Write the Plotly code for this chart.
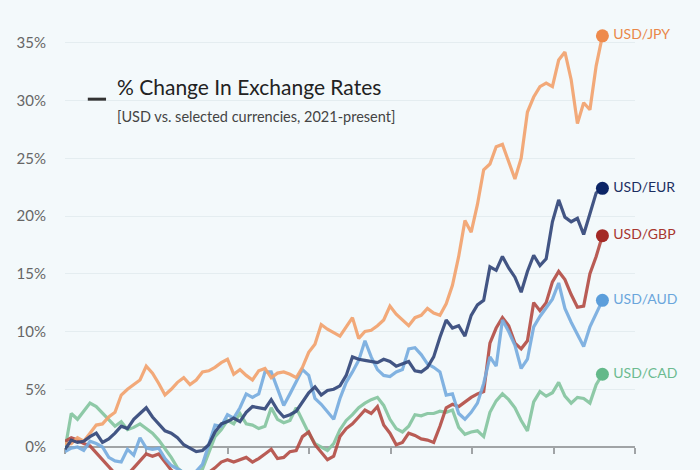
import pandas as pd
import plotly.graph_objects as go

# fortnightly observations, Jan 2021 -> Apr 2024
dates = pd.date_range("2021-01-01", periods=87, freq="14D")

usd_jpy = [0.3, 0.3, 0.8, 0.5, 1.2, 1.9, 2.0, 2.6, 3.0, 4.5, 5.0, 5.4, 5.8, 7.0, 6.4, 5.5, 4.5, 5.0,
           5.6, 6.0, 5.4, 5.8, 6.5, 6.6, 6.9, 7.3, 7.6, 6.3, 6.7, 6.2, 5.8, 6.6, 6.8, 6.0, 6.4, 6.5,
           6.3, 6.0, 6.9, 8.2, 8.9, 10.6, 10.2, 9.9, 9.6, 10.4, 11.2, 9.4, 10.0, 10.1, 10.5, 11.0,
           12.2, 11.5, 11.0, 10.5, 11.2, 11.4, 12.0, 11.6, 11.4, 12.4, 14.0, 16.5, 19.6, 18.6, 21.0,
           24.0, 24.5, 26.0, 26.2, 24.6, 23.2, 25.0, 29.0, 30.3, 31.2, 31.5, 31.2, 33.5, 34.2, 31.8,
           28.0, 29.8, 29.2, 33.0, 35.6]
usd_eur = [-0.2, 0.6, 0.4, 0.5, 0.9, 1.2, 0.4, 0.7, 1.2, 1.8, 1.6, 2.4, 2.9, 3.4, 2.6, 2.0, 1.4, 1.2,
           0.8, 0.2, -0.1, -0.4, -0.3, 0.2, 1.3, 2.0, 2.2, 2.5, 2.2, 3.0, 3.5, 3.4, 3.3, 4.1, 3.2, 2.6,
           2.8, 3.1, 3.9, 4.7, 5.2, 4.5, 4.9, 5.0, 5.3, 6.2, 7.8, 7.6, 7.5, 7.4, 7.3, 7.6, 7.4, 7.0,
           7.2, 7.4, 6.6, 6.5, 6.9, 7.8, 9.5, 11.0, 10.3, 10.5, 9.6, 11.4, 12.3, 12.7, 15.6, 15.3,
           16.5, 15.5, 14.7, 13.4, 15.2, 16.6, 15.7, 16.3, 19.5, 21.4, 19.9, 19.5, 19.8, 18.4, 20.2,
           22.0, 22.4]
usd_gbp = [0.5, 0.8, 0.6, 0.3, 0.1, -0.5, -1.1, -1.6, -2.3, -2.6, -2.4, -1.8, -1.2, -0.6, -0.8, -0.6,
           -1.3, -2.0, -2.5, -2.8, -2.6, -2.5, -2.4, -2.2, -1.8, -1.3, -1.1, -1.3, -1.1, -0.9, -1.3,
           -1.0, -0.6, -0.2, -1.0, -0.9, -0.4, -0.3, 0.9, 1.3, 0.2, -0.4, -1.1, -0.8, 0.9, 1.6, 2.0,
           2.6, 3.2, 2.9, 3.5, 1.9, 1.2, 0.2, 0.4, 1.2, 1.0, 0.7, 0.6, 0.4, 1.8, 3.4, 3.7, 3.5, 3.9,
           4.3, 4.6, 4.8, 9.0, 10.3, 11.2, 10.5, 9.0, 8.5, 9.2, 12.5, 11.8, 12.5, 14.3, 15.2, 14.5,
           13.2, 12.1, 12.2, 15.0, 16.5, 18.3]
usd_aud = [-0.4, -0.1, 0.0, -0.3, 0.5, 0.3, 0.0, -0.9, -1.2, -1.3, -0.2, -0.7, 0.8, -0.1, -0.2, -0.1,
           -1.0, -1.6, -1.9, -2.2, -2.3, -2.1, -1.5, 0.3, 1.9, 1.8, 2.8, 2.5, 3.4, 4.6, 4.3, 4.6, 6.5,
           6.5, 5.0, 3.6, 4.6, 5.6, 6.7, 6.2, 4.2, 3.7, 3.0, 2.4, 4.2, 5.6, 6.5, 7.5, 9.2, 7.8, 6.7,
           6.2, 6.1, 6.5, 6.7, 8.5, 8.6, 8.0, 7.2, 6.9, 6.5, 4.5, 4.6, 2.9, 2.4, 3.0, 3.8, 5.5, 7.8,
           7.0, 11.0, 10.0, 8.8, 6.8, 7.6, 10.4, 11.3, 12.0, 12.8, 14.2, 12.0, 10.8, 9.8, 8.7, 10.4,
           11.6, 12.7]
usd_cad = [-0.2, 2.9, 2.4, 3.1, 3.8, 3.5, 2.9, 2.4, 1.8, 2.2, 1.5, 1.7, 2.0, 1.6, 1.2, 0.6, -0.1,
           -0.9, -1.8, -2.3, -2.6, -2.4, -1.9, -0.4, 0.9, 1.5, 2.3, 2.0, 2.9, 2.0, 1.9, 1.6, 1.8, 3.4,
           2.4, 2.1, 2.3, 3.4, 2.3, 1.2, 0.3, 0.0, -0.3, 0.3, 1.5, 2.3, 2.8, 3.4, 3.8, 4.1, 4.3, 3.6,
           2.4, 1.6, 1.3, 1.8, 2.8, 2.7, 2.9, 2.9, 3.1, 3.0, 3.2, 1.7, 1.1, 1.3, 1.4, 0.9, 3.0, 4.0,
           4.6, 4.1, 3.4, 2.3, 1.4, 3.9, 4.8, 4.4, 4.7, 5.6, 4.4, 3.8, 4.3, 4.2, 3.8, 5.4, 6.3]

labels = ["USD/CAD", "USD/GBP", "USD/AUD", "USD/JPY", "USD/EUR"]
series = [usd_cad, usd_gbp, usd_aud, usd_jpy, usd_eur]
line_colors = ["#86c6a0", "#b54f47", "#78addf", "#f2a36e", "#34487a"]
dot_colors = ["#63b98a", "#a42a26", "#5b9edb", "#ee8a4c", "#0c2566"]
text_colors = ["#6cbb90", "#a8362f", "#6aa6dc", "#ea8749", "#1c2f61"]

y_ticks = [0, 5, 10, 15, 20, 25, 30, 35]
y_tick_text = ["0%", "5%", "10%", "15%", "20%", "25%", "30%", "35%"]

bg = "#f3f9fb"
font = "Lato, 'Open Sans', sans-serif"

fig = go.Figure()

for name, vals, col in zip(labels, series, line_colors):
    fig.add_trace(go.Scatter(
        x=dates, y=vals, mode="lines", name=name,
        line=dict(color=col, width=3.2), opacity=0.92,
        showlegend=False, hoverinfo="skip",
    ))

# end-of-line dots with currency labels
fig.add_trace(go.Scatter(
    x=[dates[-1]] * len(series),
    y=[s[-1] for s in series],
    mode="markers+text",
    marker=dict(size=13, color=dot_colors),
    text=["\u2009" + t for t in labels],
    textposition="middle right",
    textfont=dict(family=font, size=14, color=text_colors),
    cliponaxis=False,
    showlegend=False,
    hoverinfo="skip",
))

y_lo, y_hi = -1.99, 38.7
zero_pos = (0 - y_lo) / (y_hi - y_lo)

fig.update_layout(
    width=700, height=470,
    margin=dict(l=65, r=65, t=0, b=0),
    paper_bgcolor=bg, plot_bgcolor=bg,
    font=dict(family=font, color="#666666"),
    xaxis=dict(
        range=["2021-01-01", "2024-07-01"],
        tick0="2021-01-01", dtick="M6",
        anchor="free", position=zero_pos,
        showline=True, linecolor="#a0a4a6", linewidth=1.5,
        ticks="outside", ticklen=6, tickcolor="#a0a4a6", tickwidth=1.5,
        showticklabels=False, showgrid=False, zeroline=False,
        layer="below traces",
    ),
    yaxis=dict(
        range=[y_lo, y_hi],
        tickvals=y_ticks, ticktext=y_tick_text,
        tickfont=dict(size=15, color="#666666"),
        ticklabelstandoff=18,
        showgrid=True, gridcolor="#e4edf0", gridwidth=1,
        zeroline=False, showline=False,
    ),
)

# header block inside the plot
fig.add_shape(type="line", xref="paper", yref="paper",
              x0=0.040, x1=0.072, y0=0.789, y1=0.789,
              line=dict(color="#333333", width=3))
fig.add_annotation(text="% Change In Exchange Rates", xref="paper", yref="paper",
                   x=0.088, y=0.817, xanchor="left", yanchor="middle", showarrow=False,
                   font=dict(family=font, size=21, color="#222222"))
fig.add_annotation(text="[USD vs. selected currencies, 2021-present]", xref="paper", yref="paper",
                   x=0.088, y=0.753, xanchor="left", yanchor="middle", showarrow=False,
                   font=dict(family=font, size=14.5, color="#444444"))

# page body has a default 8px margin; drop it so the figure sits flush
fig.write_html("out.html", config={"displayModeBar": False},
               post_script="document.body.style.margin='0';")
